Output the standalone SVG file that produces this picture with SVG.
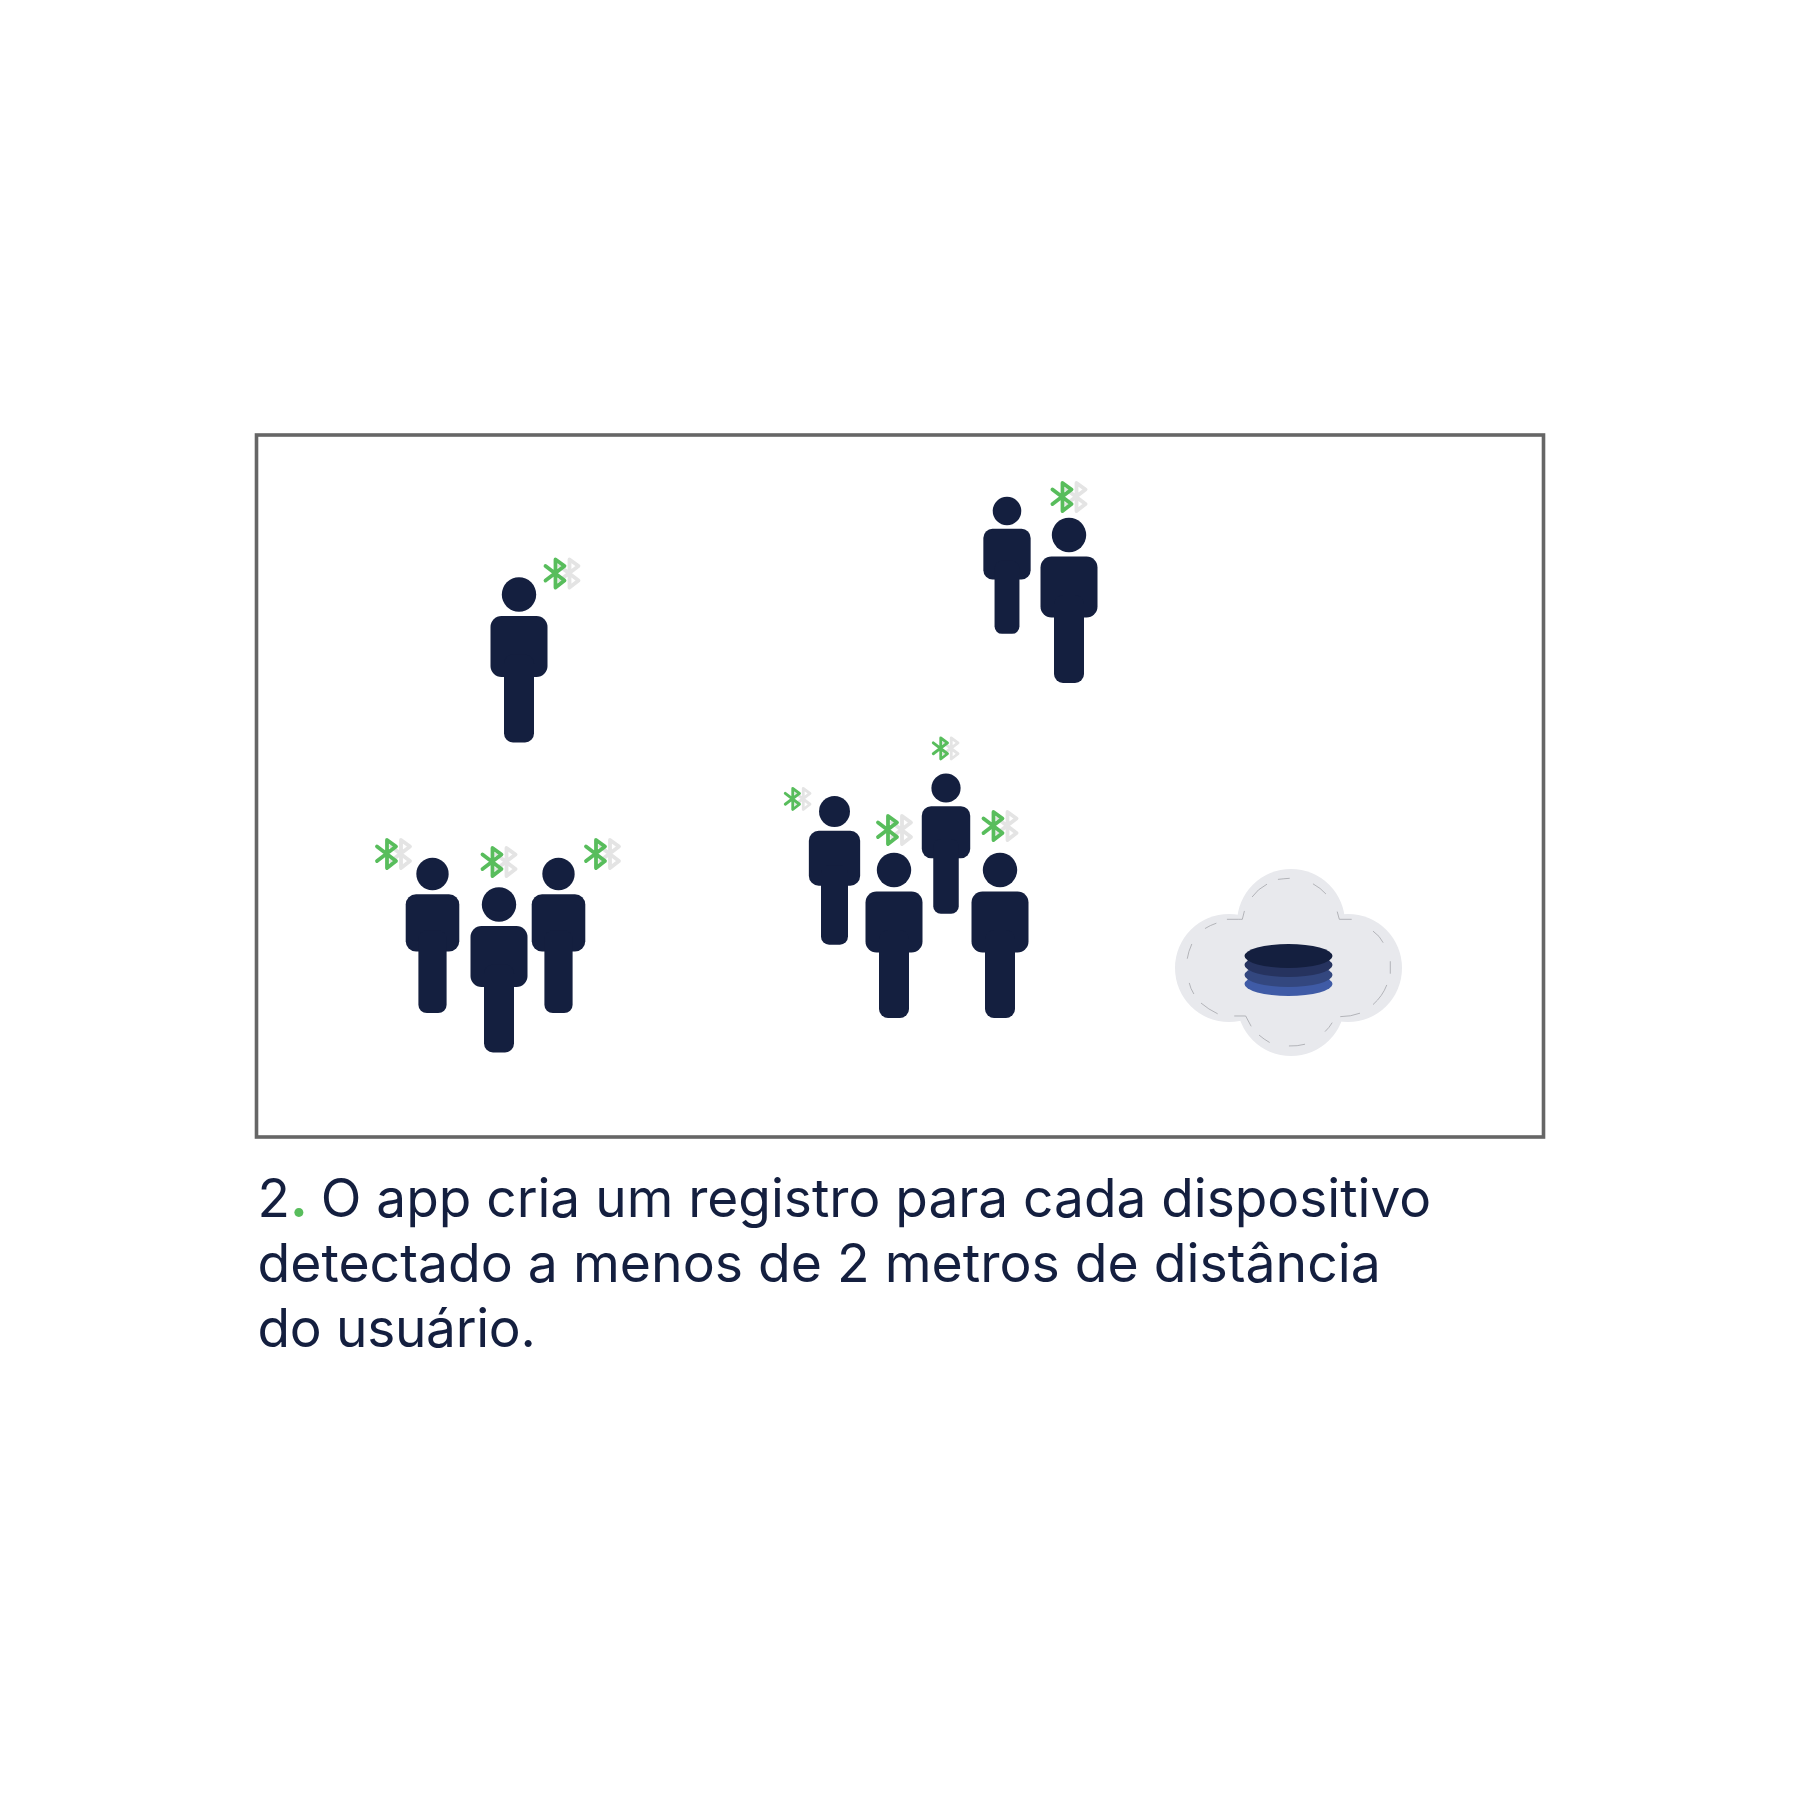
<svg xmlns="http://www.w3.org/2000/svg" width="1800" height="1800" viewBox="0 0 1800 1800">
<style>
.p{fill:#141f3f}
.bt{fill:none;stroke-width:3.8;stroke-linecap:round;stroke-linejoin:round}
.g{stroke:#58bd5c}.w{stroke:#e4e4e4}
.t{font-family:Inter,"Liberation Sans",sans-serif;font-size:53.2px;fill:#141f3f}
.d{fill:none;stroke:#a5a6ab;stroke-width:2.4;stroke-linecap:round}
</style>
<defs>
<g id="person"><circle cx="0" cy="0" r="17.2"/><rect x="-28.500" y="21.500" width="57" height="61" rx="11"/><rect x="-15" y="60" width="30" height="88" rx="9"/></g>
<g id="bt"><path class="bt w" d="M5 -7.500L24 7 15 14V-14L24 -7.500 5 7"/><path class="bt g" d="M-9 -7.500L10 7 1 14V-14L10 -7.500 -9 7"/></g>
</defs>
<rect width="1800" height="1800" fill="#fff"/>
<rect id="frame" x="256.500" y="435" width="1287" height="702" fill="none" stroke="#666" stroke-width="3.600"/>
<g id="p1" class="p"><use href="#person" transform="translate(519 594.500)"/><use href="#bt" transform="translate(554.500 573.500)"/></g>
<g id="p2" class="p"><use href="#person" transform="translate(1007 511) scale(.83)"/></g>
<g id="p3" class="p"><use href="#person" transform="translate(1069 535)"/><use href="#bt" transform="translate(1061.500 497)"/></g>
<g id="p4" class="p"><use href="#person" transform="translate(432.500 874) scale(.94)"/><use href="#bt" transform="translate(386 854)"/></g>
<g id="p5" class="p"><use href="#person" transform="translate(499 904.500)"/><use href="#bt" transform="translate(491.500 862)"/></g>
<g id="p6" class="p"><use href="#person" transform="translate(558.500 874) scale(.94)"/><use href="#bt" transform="translate(595 854)"/></g>
<g id="p7" class="p"><use href="#person" transform="translate(834.500 811.500) scale(.9)"/><use href="#bt" transform="translate(792 799) scale(.75)"/></g>
<g id="p8" class="p"><use href="#person" transform="translate(894 870)"/><use href="#bt" transform="translate(887 830)"/></g>
<g id="p9" class="p"><use href="#person" transform="translate(946 788) scale(.85)"/><use href="#bt" transform="translate(940 748.500) scale(.75)"/></g>
<g id="p10" class="p"><use href="#person" transform="translate(1000 870)"/><use href="#bt" transform="translate(992.500 826)"/></g>
<g id="cloud">
<g fill="#e8e9ed"><circle cx="1229" cy="968" r="54"/><circle cx="1348" cy="968" r="54"/><circle cx="1291" cy="923" r="54"/><circle cx="1291" cy="1002" r="54"/><rect x="1229" y="925" width="119" height="85"/></g>
<g transform="translate(1160 850) scale(.3333)" class="d">
<path d="M355 88Q372 86 388 85"/><path d="M277 140Q293 117 320 103"/><path d="M460 102Q482 114 497 131"/>
<path d="M202 208H235Q240 208 247 208L253 184"/><path d="M136 235Q150 226 168 220"/><path d="M82 325Q85 305 95 283"/>
<path d="M532 186L538 208H574"/><path d="M640 244Q660 258 669 277"/><path d="M691 335V370"/><path d="M640 463Q668 438 680 406"/>
<path d="M88 400Q91 415 101 431"/><path d="M124 460Q145 478 172 491"/><path d="M224 498H257L273 528"/><path d="M298 556Q312 568 328 577"/><path d="M388 588Q412 589 434 583"/><path d="M496 544Q508 533 516 519"/><path d="M542 500Q572 500 599 490"/>
</g>
<ellipse cx="1288.500" cy="984" rx="44" ry="12" fill="#3f5ba6"/><ellipse cx="1288.500" cy="975" rx="44" ry="12" fill="#33477f"/><ellipse cx="1288.500" cy="965" rx="44" ry="12" fill="#26335f"/><ellipse cx="1288.500" cy="956" rx="44" ry="12" fill="#141f3f"/>
</g>
<g id="caption">
<text class="t" x="257.500" y="1217">2<tspan fill="#58bd5c" font-weight="700">.</tspan><tspan dx="-2"> O app cria um registro para cada dispositivo</tspan></text>
<text class="t" x="257.500" y="1282" style="font-size:53.5px">detectado a menos de 2 metros de distância</text>
<text class="t" x="257.500" y="1347" letter-spacing="-.3">do usuário.</text>
</g>
</svg>
